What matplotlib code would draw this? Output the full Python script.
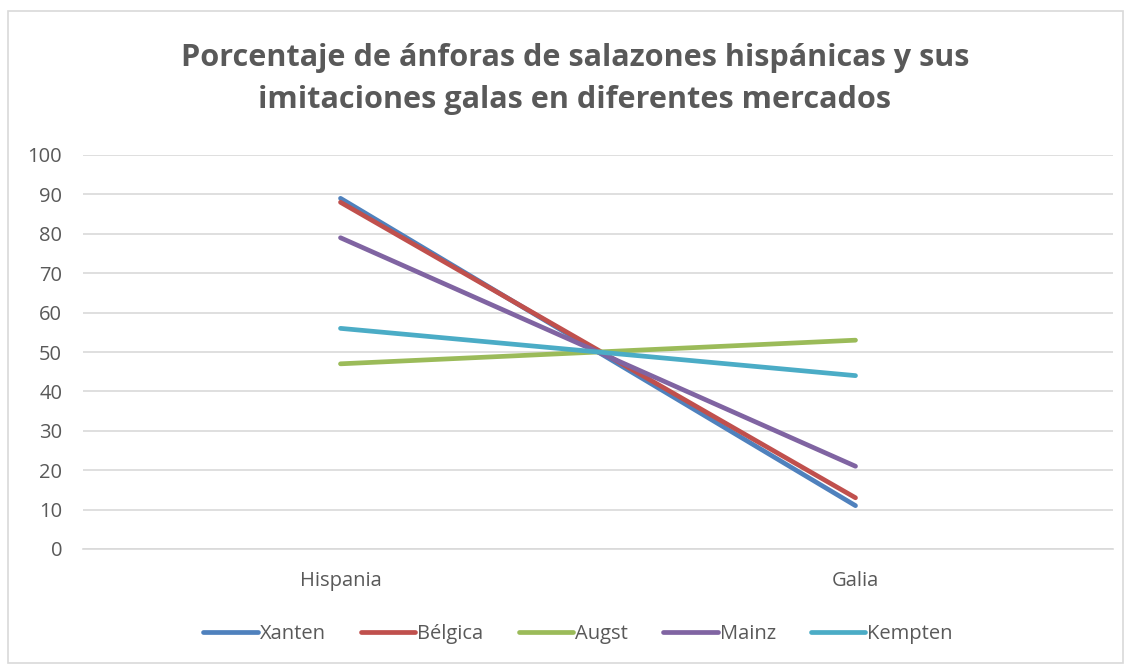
import matplotlib
matplotlib.use("Agg")
import matplotlib.pyplot as plt
from matplotlib.patches import Rectangle

categories = ["Hispania", "Galia"]
series_names = ["Xanten", "Bélgica", "Augst", "Mainz", "Kempten"]
xanten = [89, 11]
belgica = [88, 13]
augst = [47, 53]
mainz = [79, 21]
kempten = [56, 44]
yticks = list(range(0, 101, 10))

series = [xanten, belgica, augst, mainz, kempten]
colors = ["#4F81BD", "#C0504D", "#9BBB59", "#8064A2", "#4BACC6"]

plt.rcParams["font.family"] = ["Open Sans", "DejaVu Sans"]
text_color = "#595959"

fig = plt.figure(figsize=(11.31, 6.65), dpi=100)
W, H = 1131, 665

# chart border
fig.patches.append(Rectangle((8 / W, 1 - 663 / H), (1123 - 8) / W, (663 - 11) / H,
                             transform=fig.transFigure, fill=False,
                             edgecolor="#D9D9D9", linewidth=1.2))

ax = fig.add_axes([83 / W, 1 - 549 / H, (1113 - 83) / W, (549 - 155) / H])
xs = list(range(len(categories)))
for vals, name, c in zip(series, series_names, colors):
    ax.plot(xs, vals, color=c, linewidth=3.4, solid_capstyle="round", label=name)

ax.set_xlim(-0.5, len(categories) - 0.5)
ax.set_ylim(0, 100)
ax.set_yticks(yticks)
ax.set_xticks(xs)
ax.set_xticklabels(categories)
ax.grid(axis="y", color="#D9D9D9", linewidth=1.2)
ax.set_axisbelow(True)
for s in ["top", "right", "left"]:
    ax.spines[s].set_visible(False)
ax.spines["bottom"].set_color("#D9D9D9")
ax.spines["bottom"].set_linewidth(1.2)
ax.tick_params(axis="both", length=0, labelsize=14.5, colors=text_color)
ax.tick_params(axis="y", pad=15)
ax.tick_params(axis="x", pad=16)

fig.text(575 / W, 1 - 79 / H,
         "Porcentaje de ánforas de salazones hispánicas y sus\nimitaciones galas en diferentes mercados",
         ha="center", va="center", fontsize=22.1, fontweight="bold", color=text_color,
         linespacing=1.56)

leg = fig.legend(loc="center", bbox_to_anchor=(578 / W, 1 - 634 / H), ncol=5,
                 frameon=False, fontsize=14.5, handlelength=2.7, handletextpad=0.1,
                 columnspacing=1.75)
for t in leg.get_texts():
    t.set_color(text_color)

fig.savefig("out.png", dpi=100)
